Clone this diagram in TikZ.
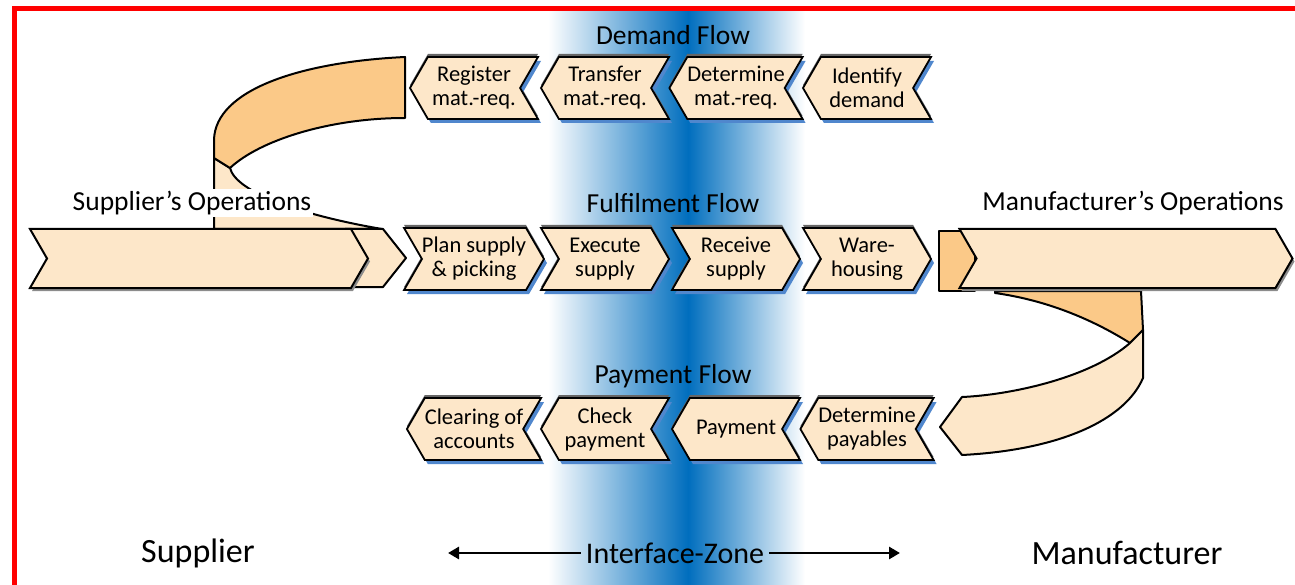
\documentclass[tikz,border=0pt]{standalone}
\usepackage{fontspec}
\setmainfont{Carlito}
\usetikzlibrary{shapes.symbols,shadows,arrows.meta,positioning}
\definecolor{peach}{RGB}{253,231,201}
\definecolor{ribbon}{RGB}{251,201,136}
\definecolor{zoneblue}{RGB}{0,110,190}
\definecolor{zonemid}{RGB}{140,170,225}
\definecolor{boxshade}{RGB}{80,135,205}
\newcommand{\boxfont}{\fontsize{22.5}{24}\selectfont}
\newcommand{\flowfont}{\fontsize{27.5}{30}\selectfont}
\newcommand{\zonefont}{\fontsize{34}{36}\selectfont}
\begin{document}
\begin{tikzpicture}[x=1pt, y=-1pt,
  flowbox/.style={signal, signal pointer angle=120, draw=black, line width=1.8pt,
    fill=peach, minimum width=128pt, minimum height=62pt, inner sep=0pt,
    align=center, font=\boxfont,
    general shadow={shadow yshift=3pt, fill=black!60},
    drop shadow={shadow xshift=3pt, shadow yshift=-4pt, fill=boxshade, opacity=1}},
  rightbox/.style={flowbox, signal to=east, signal from=west},
  leftbox/.style={flowbox, signal to=west, signal from=east},
  opsbox/.style={signal, signal to=east, signal from=west, signal pointer angle=120,
    draw=black, line width=2pt, fill=peach, minimum width=#1, minimum height=59pt,
    inner sep=0pt, drop shadow={shadow xshift=2pt, shadow yshift=-3pt, fill=black!45, opacity=1}},
  ribbonline/.style={draw=black, line width=2pt, line join=round},
  flowtitle/.style={font=\flowfont, inner sep=1pt},
  opslabel/.style={font=\flowfont, fill=white, inner sep=2pt},
  zonelabel/.style={font=\zonefont, inner sep=5pt},
  zonearrow/.style={line width=2.8pt, -{Triangle[length=11pt, width=12pt]}}]
  \useasboundingbox (0,0) rectangle (1295,585);

  \shade[left color=white, middle color=zonemid, right color=zoneblue] (548,12) rectangle (688,585);
  \shade[left color=zoneblue, middle color=zonemid, right color=white] (688,12) rectangle (805,585);
  \draw[red, line width=5pt] (14,585) -- (14,9) -- (1295,9);

  \filldraw[ribbonline, fill=peach] (214,158) -- (214,229) -- (382,229)
    .. controls (300,215) and (236,192) .. (230,168) -- cycle;
  \filldraw[ribbonline, fill=ribbon] (405,57) .. controls (300,62) and (215,90) .. (214,140)
    -- (214,158) -- (230,168) .. controls (260,140) and (330,118) .. (405,118) -- cycle;
  \filldraw[ribbonline, fill=peach] (345,229) -- (383,229) -- (406,258) -- (383,287) -- (345,287) -- cycle;
  \node[opsbox=338pt] (supops) at (199,258.5) {};
  \node[opslabel] (suplab) at (192,203) {Supplier’s Operations};

  \filldraw[ribbonline, fill=ribbon] (995,291) -- (1141,291) -- (1143,330) -- (1130,343)
    .. controls (1090,318) and (1045,300) .. (995,293) -- cycle;
  \filldraw[ribbonline, fill=peach] (1130,343) -- (1143,330) -- (1143,378)
    .. controls (1125,420) and (1060,450) .. (962,455) -- (940,427) -- (962,397)
    .. controls (1010,395) and (1090,378) .. cycle;
  \filldraw[ribbonline, fill=ribbon] (939,231) rectangle (975,291);
  \node[opsbox=333pt] (manops) at (1126,258.5) {};
  \node[opslabel] (manlab) at (1133,203) {Manufacturer’s Operations};

  \node[flowtitle] (demand) at (673,35) {Demand Flow};
  \node[leftbox] (dem1) at (474,88) {Register\\mat.-req.};
  \node[leftbox] (dem2) at (605,88) {Transfer\\mat.-req.};
  \node[leftbox] (dem3) at (736,88) {Determine\\mat.-req.};
  \node[leftbox] (dem4) at (867,88) {Identify\\demand};

  \node[flowtitle] (fulfil) at (673,203) {Fulfilment Flow};
  \node[rightbox] (ful1) at (474,259) {Plan supply\\\& picking};
  \node[rightbox] (ful2) at (605,259) {Execute\\supply};
  \node[rightbox] (ful3) at (736,259) {Receive\\supply};
  \node[rightbox] (ful4) at (867,259) {Ware-\\housing};

  \node[flowtitle] (payment) at (673,376) {Payment Flow};
  \node[leftbox] (pay1) at (474,429) {Clearing of\\accounts};
  \node[leftbox] (pay2) at (605,429) {Check\\payment};
  \node[leftbox] (pay3) at (736,429) {Payment};
  \node[leftbox] (pay4) at (867,429) {Determine\\payables};

  \node[zonelabel] (supplier) at (198,553) {Supplier};
  \node[zonelabel, font=\fontsize{30}{32}\selectfont] (zone) at (675,553) {Interface-Zone};
  \node[zonelabel] (manufacturer) at (1127,553) {Manufacturer};
  \coordinate (zoneleft) at (448,553);
  \coordinate (zoneright) at (900,553);
  \draw[zonearrow] (zone.west) -- (zoneleft);
  \draw[zonearrow] (zone.east) -- (zoneright);
\end{tikzpicture}
\end{document}
